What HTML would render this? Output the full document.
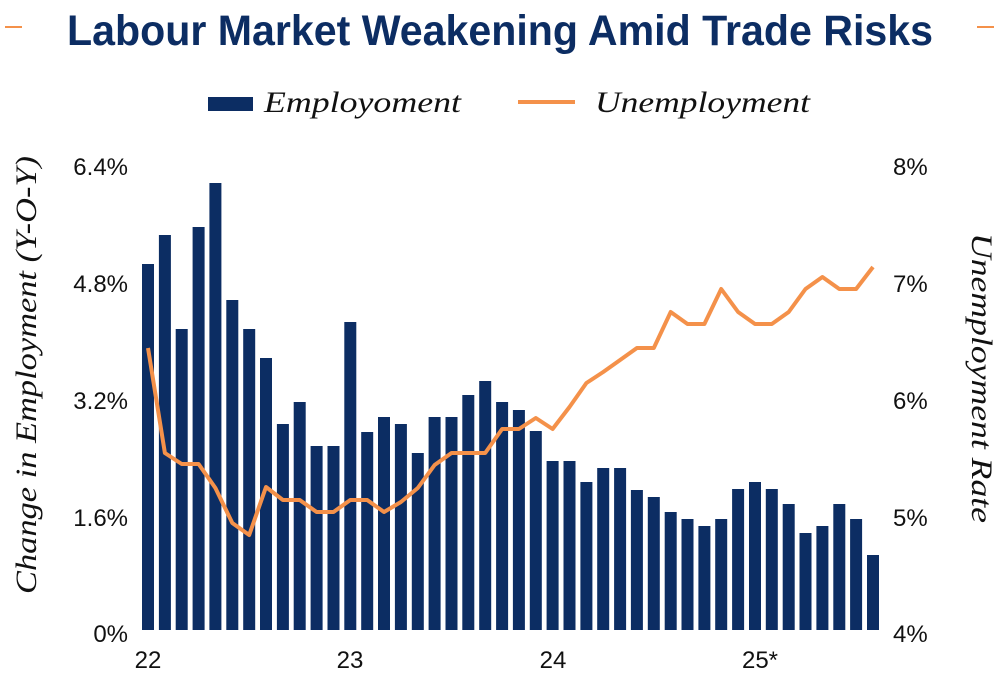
<!DOCTYPE html>
<html><head><meta charset="utf-8"><style>
html,body{margin:0;padding:0;background:#fff;}
svg{display:block;}
.t{font-family:"Liberation Sans",sans-serif;font-size:24px;fill:#111;}
.s{font-family:"Liberation Serif",serif;font-style:italic;font-size:30px;fill:#111;}
</style></head><body>
<svg width="1000" height="675" viewBox="0 0 1000 675" xmlns="http://www.w3.org/2000/svg">
<rect width="1000" height="675" fill="#fff"/>
<line x1="5" y1="27" x2="22" y2="27" stroke="#f4914a" stroke-width="2"/>
<line x1="977" y1="27" x2="994" y2="27" stroke="#f4914a" stroke-width="2"/>
<text x="500" y="45" text-anchor="middle" font-family="Liberation Sans, sans-serif" font-size="43" font-weight="bold" fill="#0c2d63" textLength="866" lengthAdjust="spacingAndGlyphs">Labour Market Weakening Amid Trade Risks</text>
<rect x="208" y="97" width="45" height="14" fill="#0c2d63"/>
<text class="s" x="264" y="112" textLength="197" lengthAdjust="spacingAndGlyphs">Employoment</text>
<line x1="518" y1="102" x2="575" y2="102" stroke="#f4914a" stroke-width="4"/>
<text class="s" x="595" y="112" textLength="215" lengthAdjust="spacingAndGlyphs">Unemployment</text>
<g class="t" text-anchor="end">
<text x="128" y="175">6.4%</text><text x="128" y="292">4.8%</text><text x="128" y="409">3.2%</text><text x="128" y="526">1.6%</text><text x="128" y="642">0%</text>
</g>
<g class="t" text-anchor="start">
<text x="893" y="175">8%</text><text x="893" y="292">7%</text><text x="893" y="409">6%</text><text x="893" y="526">5%</text><text x="893" y="642">4%</text>
</g>
<g class="t" text-anchor="middle">
<text x="148" y="668">22</text><text x="350" y="668">23</text><text x="553" y="668">24</text><text x="760" y="668">25*</text>
</g>
<text class="s" transform="translate(36,375) rotate(-90)" text-anchor="middle" textLength="438" lengthAdjust="spacingAndGlyphs">Change in Employment (Y-O-Y)</text>
<text class="s" transform="translate(972,378) rotate(90)" text-anchor="middle" textLength="290" lengthAdjust="spacingAndGlyphs">Unemployment Rate</text>
<g fill="#0c2d63">
<rect x="142.0" y="264" width="12" height="366"/>
<rect x="158.9" y="235" width="12" height="395"/>
<rect x="175.7" y="329" width="12" height="301"/>
<rect x="192.6" y="227" width="12" height="403"/>
<rect x="209.4" y="183" width="12" height="447"/>
<rect x="226.3" y="300" width="12" height="330"/>
<rect x="243.2" y="329" width="12" height="301"/>
<rect x="260.0" y="358" width="12" height="272"/>
<rect x="276.9" y="424" width="12" height="206"/>
<rect x="293.7" y="402" width="12" height="228"/>
<rect x="310.6" y="446" width="12" height="184"/>
<rect x="327.5" y="446" width="12" height="184"/>
<rect x="344.3" y="322" width="12" height="308"/>
<rect x="361.2" y="432" width="12" height="198"/>
<rect x="378.0" y="417" width="12" height="213"/>
<rect x="394.9" y="424" width="12" height="206"/>
<rect x="411.8" y="453" width="12" height="177"/>
<rect x="428.6" y="417" width="12" height="213"/>
<rect x="445.5" y="417" width="12" height="213"/>
<rect x="462.3" y="395" width="12" height="235"/>
<rect x="479.2" y="381" width="12" height="249"/>
<rect x="496.1" y="402" width="12" height="228"/>
<rect x="512.9" y="410" width="12" height="220"/>
<rect x="529.8" y="431" width="12" height="199"/>
<rect x="546.6" y="461" width="12" height="169"/>
<rect x="563.5" y="461" width="12" height="169"/>
<rect x="580.4" y="482" width="12" height="148"/>
<rect x="597.2" y="468" width="12" height="162"/>
<rect x="614.1" y="468" width="12" height="162"/>
<rect x="630.9" y="490" width="12" height="140"/>
<rect x="647.8" y="497" width="12" height="133"/>
<rect x="664.7" y="512" width="12" height="118"/>
<rect x="681.5" y="519" width="12" height="111"/>
<rect x="698.4" y="526" width="12" height="104"/>
<rect x="715.2" y="519" width="12" height="111"/>
<rect x="732.1" y="489" width="12" height="141"/>
<rect x="749.0" y="482" width="12" height="148"/>
<rect x="765.8" y="489" width="12" height="141"/>
<rect x="782.7" y="504" width="12" height="126"/>
<rect x="799.5" y="533" width="12" height="97"/>
<rect x="816.4" y="526" width="12" height="104"/>
<rect x="833.3" y="504" width="12" height="126"/>
<rect x="850.1" y="519" width="12" height="111"/>
<rect x="867.0" y="555" width="12" height="75"/>
</g>
<polyline fill="none" stroke="#f4914a" stroke-width="4" stroke-linejoin="round" points="148.0,348 164.9,453 181.7,464 198.6,464 215.4,488 232.3,523 249.2,535 266.0,487 282.9,500 299.7,500 316.6,512 333.5,512 350.3,500 367.2,500 384.0,512 400.9,502 417.8,488 434.6,465 451.5,453 468.3,453 485.2,453 502.1,429 518.9,429 535.8,418 552.6,429 569.5,407 586.4,383 603.2,372 620.1,360 636.9,348 653.8,348 670.7,312 687.5,324 704.4,324 721.2,289 738.1,312 755.0,324 771.8,324 788.7,312 805.5,289 822.4,277 839.3,289 856.1,289 873.0,267"/>
</svg>
</body></html>
